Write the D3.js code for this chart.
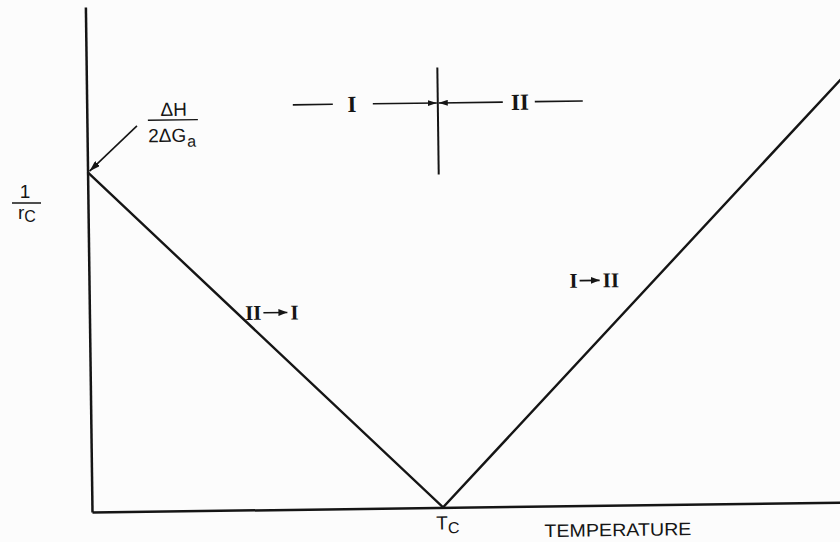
<!DOCTYPE html>
<html>
<head>
<meta charset="utf-8">
<script src="https://cdn.jsdelivr.net/npm/d3@7"></script>
<style>
  body { margin: 0; background: #fcfcfc; }
  svg { display: block; }
</style>
</head>
<body>
<svg id="chart" width="840" height="542"></svg>
<script>
// Critical radius (plotted as 1/r_c) versus temperature, with the
// transformation temperature T_c separating phase I from phase II.
const temperature = [0, 46.2, 100];
const inverseRadius = [67.3, 0, 84.9];
const criticalTemperature = 46.2;
const phaseNames = ["I", "II"];
const transitionLabels = [["II", "I"], ["I", "II"]];
const xTitle = "TEMPERATURE";

const svg = d3.select("#chart");
const ink = "#151515";

const x = d3.scaleLinear().domain([0, 100]).range([0, 760]);
const y = d3.scaleLinear().domain([0, 100]).range([0, -505]);

// arrowheads
const defs = svg.append("defs");
function head(id, len, wid) {
  defs.append("marker")
    .attr("id", id)
    .attr("viewBox", `0 ${-wid / 2} ${len} ${wid}`)
    .attr("refX", len).attr("refY", 0)
    .attr("markerWidth", len).attr("markerHeight", wid)
    .attr("markerUnits", "userSpaceOnUse")
    .attr("orient", "auto")
    .append("path")
    .attr("d", `M0,${-wid / 2}L${len},0L0,${wid / 2}Z`)
    .attr("fill", ink);
}
head("headBig", 11, 7);
head("headSmall", 9, 6);
head("headLabel", 9, 7);

// plot frame, slightly turned as on the printed page
const g = svg.append("g").attr("transform", "translate(92,512) rotate(-0.75)");

const xAxis = g.append("g").call(d3.axisBottom(x).ticks(0).tickSizeOuter(0));
const yAxis = g.append("g").call(d3.axisLeft(y).ticks(0).tickSizeOuter(0));
[xAxis, yAxis].forEach(a => {
  a.select(".domain").attr("stroke", ink).attr("stroke-width", 2.5);
});

// V-shaped curve
const pts = temperature.map((t, i) => [t, inverseRadius[i]]);
g.append("path")
  .datum(pts)
  .attr("d", d3.line().x(d => x(d[0])).y(d => y(d[1])))
  .attr("fill", "none")
  .attr("stroke", ink)
  .attr("stroke-width", 2.4)
  .attr("stroke-linejoin", "miter");

const tc = x(criticalTemperature);

// phase boundary marker and arrows at the top
const rowY = -404.5;
g.append("line")
  .attr("x1", tc).attr("x2", tc).attr("y1", -440).attr("y2", -333)
  .attr("stroke", ink).attr("stroke-width", 2);
const seg = (x1, x2, marker) => {
  const l = g.append("line")
    .attr("x1", x1).attr("x2", x2).attr("y1", rowY).attr("y2", rowY)
    .attr("stroke", ink).attr("stroke-width", 1.6);
  if (marker) l.attr("marker-end", `url(#${marker})`);
};
seg(tc - 145, tc - 105);
seg(tc - 65, tc - 1, "headSmall");
seg(tc + 65, tc + 1, "headSmall");
seg(tc + 97, tc + 145);
const serif = "'Liberation Serif', serif";
g.append("text").attr("x", tc - 86).attr("y", rowY + 8)
  .attr("text-anchor", "middle").attr("font-family", serif)
  .attr("font-weight", "bold").attr("font-size", 23).attr("fill", ink)
  .text(phaseNames[0]);
g.append("text").attr("x", tc + 82).attr("y", rowY + 8)
  .attr("text-anchor", "middle").attr("font-family", serif)
  .attr("font-weight", "bold").attr("font-size", 23).attr("fill", ink)
  .text(phaseNames[1]);

// transition labels beside each branch
function transition(cx, cy, from, to, arrowLen) {
  const lab = g.append("g").attr("transform", `translate(${cx},${cy})`)
    .attr("font-family", serif).attr("font-weight", "bold")
    .attr("font-size", 21).attr("fill", ink);
  const half = arrowLen / 2;
  lab.append("text").attr("x", -half - 2).attr("text-anchor", "end").text(from);
  lab.append("line").attr("x1", -half).attr("x2", half)
    .attr("y1", -7).attr("y2", -7)
    .attr("stroke", ink).attr("stroke-width", 1.6)
    .attr("marker-end", "url(#headLabel)");
  lab.append("text").attr("x", half + 3).attr("text-anchor", "start").text(to);
}
transition(x(25) - 4, -190, transitionLabels[0][0], transitionLabels[0][1], 24);
transition(x(66.4) - 4, -218, transitionLabels[1][0], transitionLabels[1][1], 20);

// intercept annotation on the vertical axis
const sans = "'Liberation Sans', Arial, sans-serif";
g.append("line")
  .attr("x1", 50).attr("y1", -385.5)
  .attr("x2", x(0) + 2).attr("y2", y(inverseRadius[0]) - 1)
  .attr("stroke", ink).attr("stroke-width", 1.6)
  .attr("marker-end", "url(#headBig)");
const frac = g.append("g").attr("transform", "translate(86,-391)")
  .attr("font-family", sans).attr("font-size", 19).attr("fill", ink);
frac.append("text").attr("x", 1).attr("y", -4).attr("text-anchor", "middle")
  .text("ΔH");
frac.append("line").attr("x1", -25).attr("x2", 25).attr("y1", 0).attr("y2", 0)
  .attr("stroke", ink).attr("stroke-width", 1.4);
const den = frac.append("text").attr("x", -25).attr("y", 22);
den.append("tspan").text("2ΔG");
den.append("tspan").attr("dy", 5).attr("font-size", 16).attr("dx", 1).text("a");

// T_c and axis title
const tcLab = g.append("text").attr("x", tc - 7).attr("y", 22)
  .attr("font-family", sans).attr("font-size", 19).attr("fill", ink);
tcLab.append("tspan").text("T");
tcLab.append("tspan").attr("dy", 4).attr("font-size", 16).text("C");
g.append("text").attr("x", 525.6).attr("y", 31)
  .attr("text-anchor", "middle").attr("font-family", sans)
  .attr("font-size", 18).attr("fill", ink)
  .attr("textLength", 147).attr("lengthAdjust", "spacingAndGlyphs")
  .text(xTitle);

// y-axis title 1/r_c
const yt = svg.append("g").attr("font-family", sans).attr("fill", ink);
yt.append("text").attr("x", 25).attr("y", 198).attr("text-anchor", "middle")
  .attr("font-size", 19).text("1");
yt.append("line").attr("x1", 12).attr("x2", 41).attr("y1", 203).attr("y2", 203)
  .attr("stroke", ink).attr("stroke-width", 1.5);
const rc = yt.append("text").attr("x", 18).attr("y", 219).attr("font-size", 19);
rc.append("tspan").text("r");
rc.append("tspan").attr("dy", 3).attr("font-size", 16).text("C");
</script>
</body>
</html>
